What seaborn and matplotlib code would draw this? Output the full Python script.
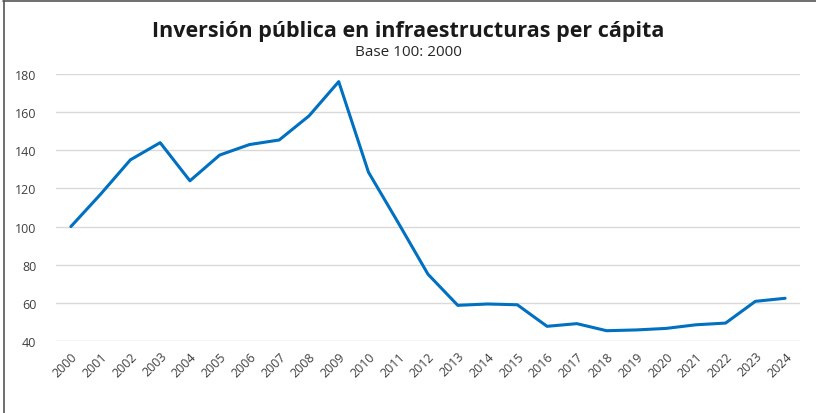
import pandas as pd
import matplotlib.pyplot as plt
import seaborn as sns
from matplotlib.lines import Line2D

# Datos: inversión pública en infraestructuras per cápita (Base 100: 2000)
anios = [str(a) for a in range(2000, 2025)]
valores = [100, 117, 135, 144, 124, 137.5, 143, 145.4, 158, 176,
           128.5, 102, 75, 58.7, 59.4, 59.0, 47.7, 49.1, 45.4, 45.8,
           46.6, 48.5, 49.4, 60.8, 62.4]
y_ticks = [40, 60, 80, 100, 120, 140, 160, 180]

datos = pd.DataFrame({'pos': range(len(anios)), 'valor': valores})

sns.set_style('white')
plt.rcParams['font.family'] = ['Open Sans', 'DejaVu Sans']

fig = plt.figure(figsize=(8.16, 4.14), dpi=100)
ax = fig.add_axes([56 / 816, 1 - 342 / 414, (800 - 56) / 816, (342 - 75) / 414])

sns.lineplot(data=datos, x='pos', y='valor', ax=ax, color='#0070C0', linewidth=2.2)

ax.set_xlim(-0.5, len(anios) - 0.5)
ax.set_ylim(40, 180)
ax.set_yticks(y_ticks)
ax.set_xticks(range(len(anios)))
ax.set_xticklabels(anios, rotation=45, ha='right', rotation_mode='anchor')
ax.tick_params(axis='both', length=0, labelsize=9, labelcolor='#404040')
ax.tick_params(axis='y', pad=14)
ax.tick_params(axis='x', pad=6)
ax.grid(axis='y', color='#d9d9d9', linewidth=1)
ax.set_axisbelow(True)
ax.set_xlabel('')
ax.set_ylabel('')
sns.despine(ax=ax, left=True, bottom=True)

fig.text(0.5, 1 - 31 / 414, 'Inversión pública en infraestructuras per cápita',
         ha='center', va='center', fontsize=15.5, fontweight='bold', color='#1a1a1a')
fig.text(0.5, 1 - 52 / 414, 'Base 100: 2000', ha='center', va='center',
         fontsize=11, color='#262626')

# marco de la captura (arriba e izquierda)
fig.add_artist(Line2D([3 / 816, 1], [1 - 2 / 414, 1 - 2 / 414], transform=fig.transFigure,
                      color='#555555', linewidth=1.2))
fig.add_artist(Line2D([4 / 816, 4 / 816], [0, 1 - 2 / 414], transform=fig.transFigure,
                      color='#555555', linewidth=1.2))

fig.savefig('out.png', dpi=100)
